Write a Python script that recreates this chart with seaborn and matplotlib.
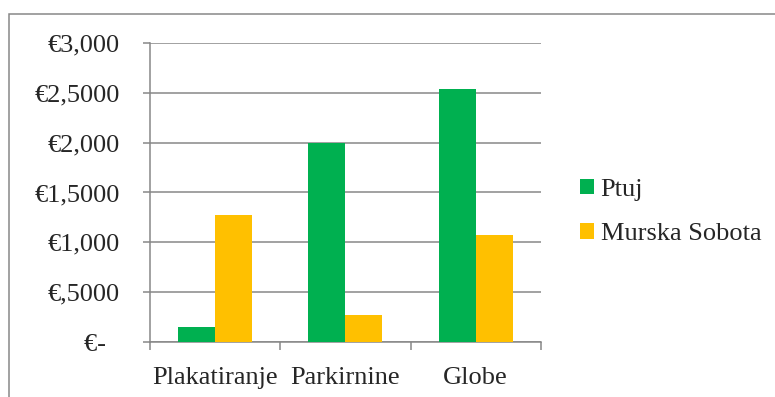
import matplotlib
matplotlib.use("Agg")
import matplotlib.pyplot as plt
from matplotlib.patches import Rectangle
import seaborn as sns
import pandas as pd

# Revenue per category (thousands of euro)
categories = ["Plakatiranje", "Parkirnine", "Globe"]
ptuj = [0.15, 2.00, 2.54]
murska_sobota = [1.27, 0.27, 1.07]
series_names = ["Ptuj", "Murska Sobota"]
y_ticks = [0.0, 0.5, 1.0, 1.5, 2.0, 2.5, 3.0]
y_tick_labels = ["€-  ", "€,5000", "€1,000", "€1,5000", "€2,000", "€2,5000", "€3,000"]

df = pd.DataFrame({
    "kategorija": categories * 2,
    "mesto": [series_names[0]] * len(categories) + [series_names[1]] * len(categories),
    "vrednost": ptuj + murska_sobota,
})

FONT = "Liberation Serif"
sns.set_style("white")
plt.rcParams["font.family"] = FONT

GREEN = "#00B050"
GOLD = "#FFC000"
GRID = "#878787"

fig = plt.figure(figsize=(7.75, 3.97), dpi=100)
ax = fig.add_axes([149.5 / 775, 54.7 / 397, 391.5 / 775, 299.6 / 397])

# outer chart frame
fig.add_artist(Rectangle((9 / 775, -0.05), 1.2, (397 - 14) / 397 + 0.05,
                         transform=fig.transFigure, fill=False,
                         edgecolor=GRID, linewidth=1.1))

sns.barplot(data=df, x="kategorija", y="vrednost", hue="mesto",
            palette=[GREEN, GOLD], width=0.57, gap=0, saturation=1,
            edgecolor="none", linewidth=0, ax=ax, legend=True, zorder=3)

ax.set_xlim(-0.5, 2.5)
ax.set_ylim(0, 3.0)
ax.set_xlabel("")
ax.set_ylabel("")

ax.set_yticks(y_ticks)
ax.set_yticklabels(y_tick_labels, fontfamily=FONT, fontsize=19)
ax.yaxis.grid(True, color=GRID, linewidth=1.1)
ax.set_axisbelow(True)

ax.set_xticks(range(len(categories)))
ax.set_xticklabels(categories, fontfamily=FONT, fontsize=19)
ax.set_xticks([-0.5, 0.5, 1.5, 2.5], minor=True)

for side in ["top", "right"]:
    ax.spines[side].set_visible(False)
for side in ["left", "bottom"]:
    ax.spines[side].set_color(GRID)
    ax.spines[side].set_linewidth(1.1)

ax.tick_params(axis="y", which="major", left=True, length=5, width=1.1,
               color=GRID, pad=16.5)
ax.tick_params(axis="x", which="major", bottom=False, length=0, pad=17.5)
ax.tick_params(axis="x", which="minor", bottom=True, length=6, width=1.1,
               color=GRID)

leg = ax.legend(loc="center left", bbox_to_anchor=(580 / 775, 1 - 212 / 397),
                bbox_transform=fig.transFigure, frameon=False,
                prop={"family": FONT, "size": 19},
                handlelength=0.53, handleheight=0.53, handletextpad=0.25,
                labelspacing=0.83, borderpad=0, borderaxespad=0, title=None)

fig.savefig("out.png", dpi=100)
